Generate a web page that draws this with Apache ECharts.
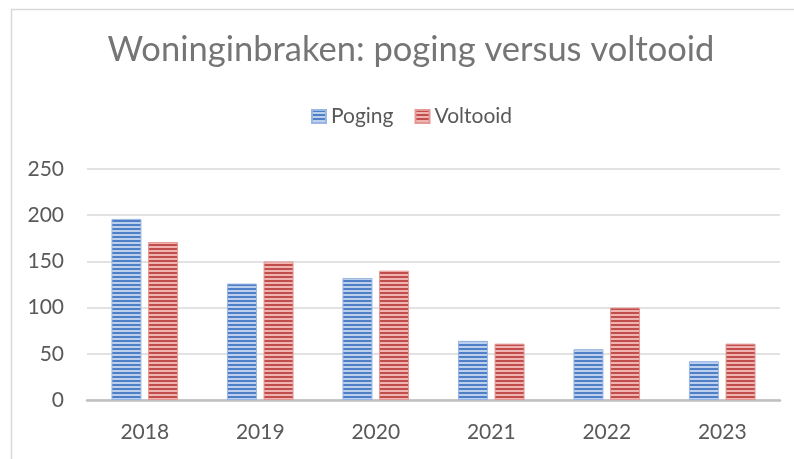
<!DOCTYPE html>
<html>
<head>
<meta charset="utf-8">
<script src="https://cdn.jsdelivr.net/npm/echarts@6/dist/echarts.min.js"></script>
<style>
  html, body { margin: 0; padding: 0; background: #fff; }
  #chart { width: 794px; height: 459px; }
</style>
</head>
<body>
<div id="chart"></div>
<script>
  // data
  const years = ["2018", "2019", "2020", "2021", "2022", "2023"];
  const poging = [196, 126, 132, 64, 55, 42];
  const voltooid = [171, 150, 140, 61, 100, 61];
  const yTicks = { min: 0, max: 250, interval: 50 };

  // horizontal stripe fill, like the Excel "narrow horizontal" pattern
  function stripes(dark, light) {
    const c = document.createElement("canvas");
    c.width = 4; c.height = 4;
    const g = c.getContext("2d");
    g.fillStyle = light; g.fillRect(0, 0, 4, 4);
    g.fillStyle = dark; g.fillRect(0, 0, 4, 2);
    return { image: c, repeat: "repeat" };
  }
  const blueFill = stripes("#4f7fc6", "#bcd0ee");
  const redFill = stripes("#c24e4b", "#efb4b2");

  const font = "Lato, 'Open Sans', sans-serif";
  const chart = echarts.init(document.getElementById("chart"), null, { renderer: "canvas" });
  chart.setOption({
    animation: false,
    backgroundColor: "#fff",
    graphic: [{
      type: "rect", silent: true, z: -1,
      shape: { x: 11.5, y: 9.5, width: 800, height: 470 },
      style: { fill: "none", stroke: "#d9d9d9", lineWidth: 1.5 }
    }],
    title: {
      text: "Woninginbraken: poging versus voltooid",
      left: 411, top: 32, textAlign: "center", padding: 0,
      textStyle: { fontFamily: font, fontSize: 34.5, fontWeight: "normal", color: "#757575" }
    },
    legend: {
      top: 106, left: 311, padding: 0,
      itemWidth: 14, itemHeight: 13, itemGap: 21,
      icon: "rect",
      textStyle: { fontFamily: font, fontSize: 21, color: "#595959" },
      data: ["Poging", "Voltooid"]
    },
    grid: { left: 87, right: 14, top: 169, bottom: 59, containLabel: false },
    xAxis: {
      type: "category", data: years,
      axisTick: { show: false },
      axisLine: { lineStyle: { color: "#bfbfbf", width: 2.5 } },
      axisLabel: { fontFamily: font, fontSize: 21, color: "#595959", margin: 22 }
    },
    yAxis: {
      type: "value", min: yTicks.min, max: yTicks.max, interval: yTicks.interval,
      axisLine: { show: false }, axisTick: { show: false },
      splitLine: { lineStyle: { color: "#d9d9d9", width: 1.5 } },
      axisLabel: { fontFamily: font, fontSize: 21, color: "#595959", margin: 23 }
    },
    series: [
      { name: "Poging", type: "bar", data: poging, barWidth: 30, barGap: "22%",
        itemStyle: { color: blueFill, borderColor: "#9ab6e2", borderWidth: 1 } },
      { name: "Voltooid", type: "bar", data: voltooid, barWidth: 30,
        itemStyle: { color: redFill, borderColor: "#e39896", borderWidth: 1 } }
    ]
  });
</script>
</body>
</html>
